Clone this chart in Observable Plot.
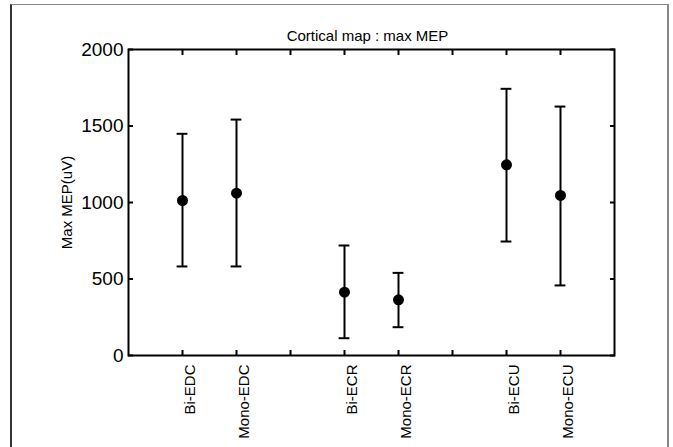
<!DOCTYPE html>
<html><head><meta charset="utf-8">
<script src="https://cdn.jsdelivr.net/npm/d3@7"></script>
<script src="https://cdn.jsdelivr.net/npm/@observablehq/plot@0.6"></script>
<style>
body{margin:0;background:#fff;}
#wrap{position:relative;width:673px;height:447px;overflow:hidden;font-family:"Liberation Sans",Arial,sans-serif;background:#fff;}
#border{position:absolute;left:10px;top:4px;width:659px;height:470px;border-left:2px solid #333;border-top:1px solid #888;border-right:2px solid #888;box-sizing:border-box;}
#chart{position:absolute;left:0;top:0;}
</style></head><body>
<div id="wrap"><div id="border"></div><div id="chart"></div></div>
<script>
const groups = ["Bi-EDC","Mono-EDC","Bi-ECR","Mono-ECR","Bi-ECU","Mono-ECU"];
const positions = [1,2,4,5,7,8];
const means = [1013,1061,414,364,1246,1046];
const lower = [582,582,113,185,745,458];
const upper = [1449,1542,719,540,1743,1627];
const xTickValues = [1,2,3,4,5,6,7,8];
const xTickLabels = ["Bi-EDC","Mono-EDC","","Bi-ECR","Mono-ECR","","Bi-ECU","Mono-ECU"];
const yTickValues = [0,500,1000,1500,2000];
const title = "Cortical map : max MEP";
const yLabel = "Max MEP(uV)";

const data = groups.map((g,i)=>({group:g,pos:positions[i],mean:means[i],lo:lower[i],hi:upper[i]}));
const capHalf = 0.1;

const chart = Plot.plot({
  width:673, height:447,
  marginLeft:128, marginRight:59, marginTop:49, marginBottom:92,
  style:{fontFamily:'"Liberation Sans",Arial,sans-serif', color:"#000", background:"transparent", overflow:"visible"},
  x:{domain:[0,9], label:null},
  y:{domain:[0,2000], label:null},
  marks:[
    Plot.axisY(yTickValues,{anchor:"left", tickSize:0, tickPadding:5, fontSize:19, tickFormat:d=>String(d), label:null}),
    Plot.axisY(yTickValues,{anchor:"left", tickSize:-5, strokeWidth:2, text:null, label:null}),
    Plot.axisY(yTickValues,{anchor:"right", tickSize:-5, strokeWidth:2, text:null, label:null}),
    Plot.axisX(xTickValues,{anchor:"bottom", tickSize:0, tickPadding:9, tickRotate:-90, fontSize:15, dx:8,
      tickFormat:d=>xTickLabels[xTickValues.indexOf(d)], label:null}),
    Plot.axisX(xTickValues,{anchor:"bottom", tickSize:-5, strokeWidth:2, text:null, label:null}),
    Plot.axisX(xTickValues,{anchor:"top", tickSize:-5, strokeWidth:2, text:null, label:null}),
    Plot.frame({stroke:"#000", strokeWidth:2}),
    Plot.ruleX(data,{x:"pos", y1:"lo", y2:"hi", stroke:"#000", strokeWidth:2}),
    Plot.ruleY(data,{y:"hi", x1:d=>d.pos-capHalf, x2:d=>d.pos+capHalf, stroke:"#000", strokeWidth:2}),
    Plot.ruleY(data,{y:"lo", x1:d=>d.pos-capHalf, x2:d=>d.pos+capHalf, stroke:"#000", strokeWidth:2}),
    Plot.dot(data,{x:"pos", y:"mean", r:5.5, fill:"#000", stroke:"none"}),
    Plot.text([title],{frameAnchor:"top", dy:-19, dx:-4, fontSize:15, textAnchor:"middle"}),
    Plot.text([yLabel],{frameAnchor:"left", dx:-61, rotate:-90, fontSize:15, textAnchor:"middle"})
  ]
});
document.getElementById("chart").appendChild(chart);
</script>
</body></html>
